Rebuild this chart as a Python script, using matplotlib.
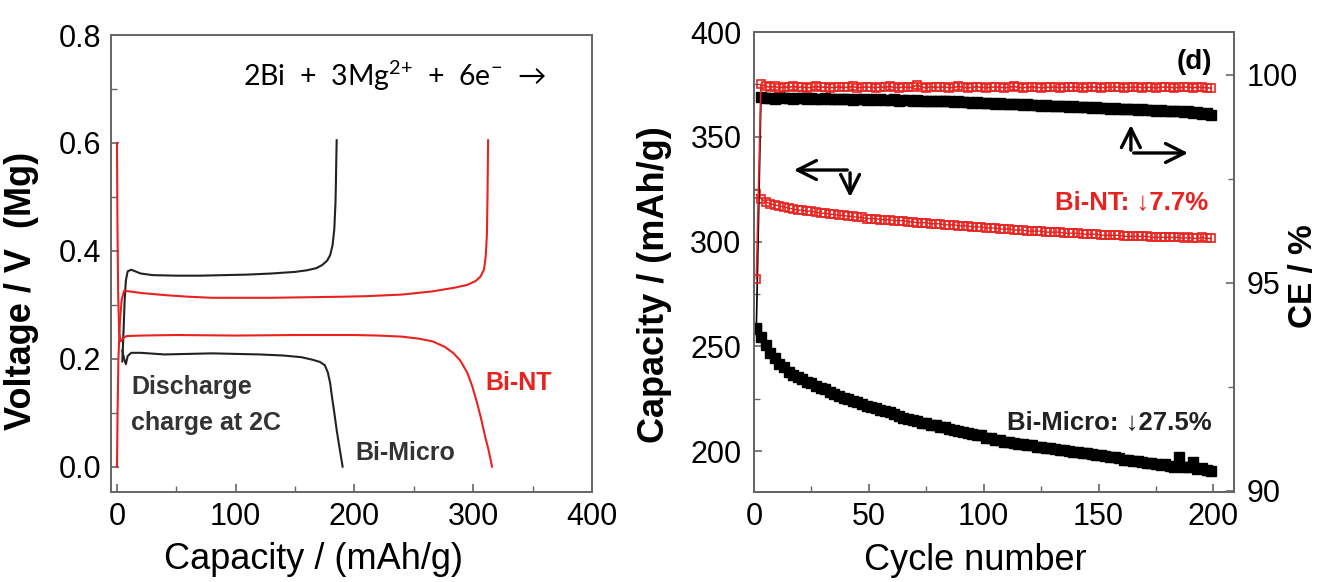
import numpy as np
import matplotlib
matplotlib.use("Agg")
import matplotlib.pyplot as plt
from matplotlib.ticker import MultipleLocator, FormatStrFormatter

plt.rcParams["font.family"] = ["Liberation Sans", "DejaVu Sans"]
plt.rcParams["mathtext.fontset"] = "custom"
plt.rcParams["mathtext.rm"] = "Lato"

RED = "#e8231f"
GRAY = "#666666"

# ---- left panel: voltage profiles (capacity mAh/g, voltage V) ----
micro_charge_cap = [4.5, 5.5, 6.5, 7.5, 9, 12, 20, 30, 50, 70, 90, 110, 130, 150,
                    160, 168, 173, 177, 179.5, 181.5, 183, 184, 184.3, 184.6, 185]
micro_charge_v = [0.195, 0.25, 0.31, 0.345, 0.362, 0.365, 0.358, 0.355, 0.354, 0.354,
                  0.355, 0.356, 0.358, 0.361, 0.364, 0.368, 0.374, 0.382, 0.392, 0.41,
                  0.44, 0.49, 0.52, 0.56, 0.605]
micro_dis_cap = [4.5, 6, 7.5, 9, 12, 20, 40, 60, 80, 100, 120, 140, 155, 165, 171,
                 175, 177.5, 179.5, 181, 183, 185, 187, 188.5, 190]
micro_dis_v = [0.215, 0.2, 0.19, 0.205, 0.211, 0.211, 0.208, 0.209, 0.210, 0.209,
               0.208, 0.206, 0.203, 0.198, 0.194, 0.188, 0.175, 0.155, 0.13, 0.1,
               0.068, 0.04, 0.02, 0.0]
nt_charge_cap = [0, 0.5, 1.2, 2.5, 4, 6, 10, 20, 40, 60, 80, 100, 130, 160, 190, 210,
                 240, 266, 285, 295, 302, 306, 309, 310.5, 311.5, 312, 312.5]
nt_charge_v = [0.0, 0.1, 0.2, 0.27, 0.31, 0.326, 0.325, 0.322, 0.318, 0.315, 0.313,
               0.313, 0.313, 0.314, 0.315, 0.316, 0.319, 0.325, 0.332, 0.337, 0.344,
               0.352, 0.365, 0.39, 0.43, 0.5, 0.605]
nt_dis_cap = [0, 0.4, 1, 1.8, 3, 5, 8, 20, 50, 100, 150, 200, 220, 240, 255, 266, 276,
              283, 289, 295, 299, 303, 306.5, 310, 313, 315.8]
nt_dis_v = [0.6, 0.45, 0.32, 0.25, 0.232, 0.238, 0.242, 0.243, 0.244, 0.243, 0.244,
            0.244, 0.243, 0.241, 0.237, 0.232, 0.222, 0.211, 0.197, 0.174, 0.15, 0.12,
            0.09, 0.056, 0.03, 0.0]

# ---- right panel: cycling (every second cycle) ----
cycles = np.arange(1, 200, 2)
micro_cap = [
    259, 254.5, 250.5, 247, 244.5, 241.5, 240, 238, 236.5, 235.5,
    234.5, 233, 232.5, 231, 230, 229.5, 228, 227.5, 226.5, 225.5,
    225, 224, 223.5, 222.5, 221.5, 221, 220.5, 219.5, 219, 218.5,
    217.5, 217, 216, 215.5, 215, 214.5, 213.5, 213.5, 212.5, 212.5,
    211.5, 211.5, 210.5, 210, 209.5, 209, 208.5, 208, 207.5, 207.5,
    206.5, 206.5, 205.5, 205.5, 204.5, 204.5, 204, 203.5, 203.5, 203,
    203, 202, 202, 201.5, 201.5, 201, 200.5, 200.5, 200, 199.5,
    199.5, 199, 199, 198.5, 198, 198, 197.5, 197, 197, 196.5,
    196, 196, 195.5, 195.5, 195, 194.5, 194.5, 194, 193.5, 194,
    193, 192.5, 197, 192.5, 192.5, 195, 191.5, 192, 191, 190.5,
]
nt_cap = [
    322.5, 320.5, 319, 318, 317.5, 317, 316.5, 316, 315.5, 315,
    315, 314.5, 314.5, 314, 313.5, 313.5, 313, 313, 312.5, 312.5,
    312, 312, 311.5, 311.5, 311, 311, 311, 310.5, 310.5, 310.5,
    310, 310, 310, 309.5, 309.5, 309, 309, 309, 308.5, 308.5,
    308.5, 308, 308, 308, 307.5, 307.5, 307.5, 307, 307, 307,
    306.5, 306.5, 306.5, 306, 306, 306, 305.5, 305.5, 305.5, 305,
    305, 305, 305, 304.5, 304.5, 304.5, 304.5, 304, 304, 304,
    304, 303.5, 303.5, 303.5, 303.5, 303, 303, 303, 303, 303,
    302.5, 302.5, 302.5, 302.5, 302.5, 302.5, 302, 302, 302, 302,
    302, 302, 302, 301.5, 302, 301.5, 301.5, 302, 301.5, 301.5,
]
micro_ce = [
    93.9, 99.46, 99.44, 99.45, 99.43, 99.46, 99.44, 99.45, 99.43, 99.44,
    99.45, 99.42, 99.44, 99.43, 99.41, 99.44, 99.42, 99.43, 99.41, 99.42,
    99.43, 99.40, 99.42, 99.41, 99.39, 99.42, 99.40, 99.41, 99.39, 99.40,
    99.41, 99.38, 99.40, 99.39, 99.37, 99.39, 99.38, 99.36, 99.38, 99.37,
    99.38, 99.36, 99.37, 99.35, 99.36, 99.34, 99.35, 99.33, 99.34, 99.33,
    99.32, 99.33, 99.31, 99.32, 99.30, 99.31, 99.29, 99.30, 99.28, 99.29,
    99.27, 99.28, 99.26, 99.27, 99.25, 99.26, 99.24, 99.25, 99.23, 99.24,
    99.23, 99.22, 99.23, 99.21, 99.22, 99.20, 99.21, 99.19, 99.20, 99.18,
    99.19, 99.17, 99.18, 99.16, 99.17, 99.15, 99.16, 99.14, 99.15, 99.13,
    99.14, 99.12, 99.13, 99.10, 99.12, 99.09, 99.10, 99.07, 99.08, 99.04,
]
nt_ce = [
    95.1, 99.78, 99.73, 99.70, 99.72, 99.69, 99.71, 99.70, 99.72, 99.70,
    99.71, 99.69, 99.70, 99.72, 99.70, 99.71, 99.69, 99.70, 99.71, 99.70,
    99.70, 99.72, 99.69, 99.70, 99.71, 99.70, 99.69, 99.71, 99.70, 99.72,
    99.70, 99.69, 99.71, 99.70, 99.70, 99.76, 99.70, 99.69, 99.71, 99.70,
    99.70, 99.71, 99.69, 99.70, 99.72, 99.70, 99.69, 99.70, 99.71, 99.70,
    99.69, 99.70, 99.71, 99.70, 99.69, 99.70, 99.72, 99.70, 99.69, 99.70,
    99.71, 99.70, 99.69, 99.70, 99.70, 99.71, 99.69, 99.70, 99.70, 99.71,
    99.70, 99.69, 99.70, 99.71, 99.70, 99.69, 99.70, 99.70, 99.71, 99.70,
    99.69, 99.70, 99.70, 99.71, 99.69, 99.70, 99.70, 99.69, 99.70, 99.71,
    99.70, 99.69, 99.70, 99.70, 99.71, 99.69, 99.70, 99.70, 99.69, 99.68,
]

fig = plt.figure(figsize=(13.25, 5.82), dpi=100)
ax1 = fig.add_axes([0.0838, 0.1546, 0.3630, 0.7852])
ax2 = fig.add_axes([0.5691, 0.1546, 0.3623, 0.7904])
ax3 = ax2.twinx()


def style_axis(ax):
    for sp in ax.spines.values():
        sp.set_color(GRAY)
        sp.set_linewidth(1.4)
    ax.tick_params(which="both", direction="in", color=GRAY, labelsize=22, pad=7)
    ax.tick_params(which="major", length=6, width=1.2)
    ax.tick_params(which="minor", length=4, width=1.0)


# left panel
ax1.plot(micro_charge_cap, micro_charge_v, color="#222222", lw=1.5)
ax1.plot(micro_dis_cap, micro_dis_v, color="#222222", lw=1.5)
ax1.plot(nt_charge_cap, nt_charge_v, color=RED, lw=1.5)
ax1.plot(nt_dis_cap, nt_dis_v, color=RED, lw=1.5)
ax1.set_xlim(-5, 400)
ax1.set_ylim(-0.047, 0.8)
ax1.xaxis.set_major_locator(MultipleLocator(100))
ax1.xaxis.set_minor_locator(MultipleLocator(50))
ax1.yaxis.set_major_locator(MultipleLocator(0.2))
ax1.yaxis.set_minor_locator(MultipleLocator(0.1))
ax1.yaxis.set_major_formatter(FormatStrFormatter("%.1f"))
style_axis(ax1)
ax1.set_xlabel("Capacity / (mAh/g)", fontsize=26)
ax1.set_ylabel("Voltage / V  (Mg)", fontsize=26, fontweight="bold")
ax1.yaxis.set_label_coords(-0.15, 0.44)
ax1.xaxis.set_label_coords(0.42, -0.11)

ax1.text(0.274, 0.912, r"2Bi  +  3Mg$^{2{+}}$  +  6e$^{-}$  →", transform=ax1.transAxes,
         fontsize=20.5, family=["Lato", "DejaVu Sans"], ha="left", va="center")
ax1.text(0.042, 0.230, "Discharge", transform=ax1.transAxes, fontsize=18,
         color="#333333", fontweight="bold", ha="left", va="center")
ax1.text(0.042, 0.151, "charge at 2C", transform=ax1.transAxes, fontsize=18,
         color="#333333", fontweight="bold", ha="left", va="center")
ax1.text(0.507, 0.085, "Bi-Micro", transform=ax1.transAxes, fontsize=18,
         color="#333333", fontweight="bold", ha="left", va="center")
ax1.text(0.778, 0.238, "Bi-NT", transform=ax1.transAxes, fontsize=18,
         color=RED, fontweight="bold", ha="left", va="center")

# right panel: capacity on left axis, CE on right axis
ax2.plot(cycles, micro_cap, color="black", lw=1, marker="s", ms=7.5, mec="black", mfc="black")
ax2.plot(cycles, nt_cap, color=RED, lw=1, marker="s", ms=6, mec=RED, mfc="none", mew=1.2)
ax3.plot(cycles, micro_ce, color="black", lw=1.2, marker="s", ms=7.5, mec="black", mfc="black")
ax3.plot(cycles, nt_ce, color=RED, lw=1.2, marker="s", ms=6, mec=RED, mfc="none", mew=1.2)

ax2.set_xlim(0, 209)
ax2.set_ylim(180.5, 400)
ax3.set_ylim(89.97, 101.03)
ax2.xaxis.set_major_locator(MultipleLocator(50))
ax2.xaxis.set_minor_locator(MultipleLocator(25))
ax2.yaxis.set_major_locator(MultipleLocator(50))
ax2.yaxis.set_minor_locator(MultipleLocator(25))
ax3.yaxis.set_major_locator(MultipleLocator(5))
ax3.yaxis.set_minor_locator(MultipleLocator(2.5))
style_axis(ax2)
style_axis(ax3)
ax3.tick_params(axis="y", which="both", left=False, pad=9)
ax2.tick_params(axis="y", which="both", right=False, pad=9)

ax2.set_xlabel("Cycle number", fontsize=26)
ax2.xaxis.set_label_coords(0.46, -0.11)
ax2.set_ylabel("Capacity / (mAh/g)", fontsize=26, fontweight="bold")
ax2.yaxis.set_label_coords(-0.17, 0.45)
ax3.set_ylabel("CE / %", fontsize=24, fontweight="bold")
ax3.yaxis.set_label_coords(1.112, 0.47)

ax2.text(0.954, 0.935, "(d)", transform=ax2.transAxes, fontsize=20,
         fontweight="bold", ha="right", va="center")
ax2.text(0.946, 0.628, "Bi-NT: ↓7.7%", transform=ax2.transAxes, fontsize=18.5,
         color=RED, fontweight="bold", ha="right", va="center")
ax2.text(0.954, 0.150, "Bi-Micro: ↓27.5%", transform=ax2.transAxes, fontsize=18.5,
         color="#222222", fontweight="bold", ha="right", va="center")

# bent double arrows pointing to the axes each series belongs to
arrow_kw = dict(arrowstyle="->", lw=2.4, color="black", mutation_scale=34)
ax3.annotate("", xy=(0.077, 0.70), xytext=(0.2, 0.70), xycoords="axes fraction",
             arrowprops=arrow_kw)
ax3.annotate("", xy=(0.2, 0.635), xytext=(0.2, 0.70), xycoords="axes fraction",
             arrowprops=arrow_kw)
ax3.annotate("", xy=(0.785, 0.804), xytext=(0.785, 0.737), xycoords="axes fraction",
             arrowprops=arrow_kw)
ax3.annotate("", xy=(0.91, 0.737), xytext=(0.785, 0.737), xycoords="axes fraction",
             arrowprops=arrow_kw)

fig.savefig("out.png", dpi=100)
